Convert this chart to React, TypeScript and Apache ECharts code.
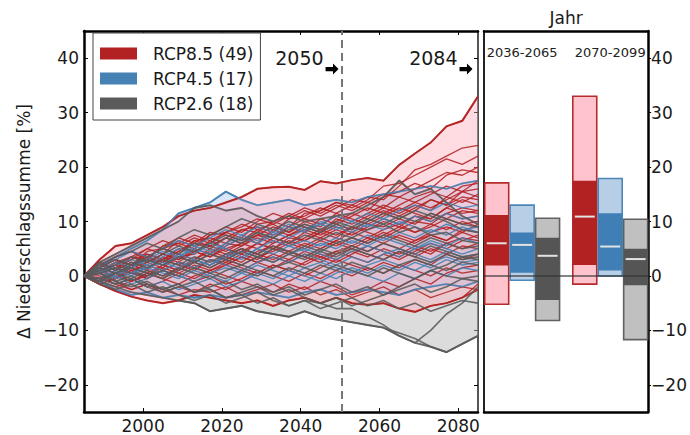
import React, { useEffect, useRef } from 'react';
import * as echarts from 'echarts';

// ---------- data ----------
const years = [1985, 1989, 1993, 1997, 2001, 2005, 2009, 2013, 2017, 2021, 2025, 2029, 2033,
  2037, 2041, 2045, 2049, 2053, 2057, 2061, 2065, 2069, 2073, 2077, 2081, 2085];

const xTicks = [2000, 2020, 2040, 2060, 2080];
const yTicks = [-20, -10, 0, 10, 20, 30, 40];

const rcp85Runs = [
  [0, 3.0, 5.5, 6.0, 7.5, 9.0, 11.0, 12.0, 12.5, 13.5, 14.5, 16.0, 16.3, 16.4, 15.8, 17.4, 17.0, 17.6, 18.0, 17.5, 20.4, 22.5, 24.5, 27.5, 28.5, 33.0],
  [0, -1.5, -2.8, -3.8, -4.5, -5.0, -4.5, -3.5, -4.0, -4.5, -5.0, -4.5, -5.5, -4.5, -4.0, -5.0, -4.0, -5.0, -5.3, -5.0, -6.0, -6.6, -5.5, -5.0, -4.0, -1.5],
  [0, 1.5, 3.0, 2.0, 4.5, 5.0, 4.0, 6.5, 7.0, 6.0, 8.5, 9.0, 8.0, 10.5, 11.0, 12.5, 11.5, 13.0, 14.5, 14.0, 16.5, 19.5, 20.5, 22.0, 23.5, 24.0],
  [0, 2.0, 1.0, 3.5, 3.0, 5.5, 6.0, 5.0, 7.5, 8.0, 7.0, 9.5, 10.0, 9.0, 11.5, 12.0, 13.5, 12.5, 14.0, 16.5, 17.0, 18.5, 20.0, 21.5, 20.5, 22.0],
  [0, 0.5, 2.5, 1.5, 3.0, 2.5, 4.5, 6.0, 5.5, 7.0, 8.5, 8.0, 10.0, 11.5, 10.5, 12.0, 13.5, 13.0, 12.0, 14.5, 15.5, 17.0, 16.0, 18.5, 19.5, 19.0],
  [0, 1.0, -0.5, 1.5, 2.5, 1.5, 3.5, 4.0, 6.5, 5.0, 6.0, 7.5, 7.0, 9.0, 8.0, 10.5, 9.5, 11.0, 12.5, 11.5, 13.0, 14.5, 15.5, 14.5, 16.5, 17.0],
  [0, -1.0, 0.5, 2.0, 1.0, 3.5, 2.5, 4.5, 3.5, 5.5, 7.0, 6.0, 8.5, 7.5, 9.0, 8.0, 10.5, 9.5, 11.0, 12.5, 11.5, 13.0, 12.0, 14.5, 13.5, 15.0],
  [0, 1.5, 3.5, 4.5, 3.0, 5.5, 7.0, 6.0, 8.0, 7.5, 6.5, 8.5, 9.5, 8.0, 10.0, 9.0, 11.5, 10.5, 9.5, 11.0, 12.5, 11.5, 10.5, 12.5, 14.0, 13.0],
  [0, -1.5, -0.5, 1.0, 0.0, 2.0, 1.0, 3.0, 4.5, 3.5, 5.0, 4.0, 6.0, 7.5, 6.5, 8.0, 7.0, 9.0, 8.5, 10.0, 9.0, 11.0, 10.5, 12.5, 11.5, 12.0],
  [0, 0.5, 1.5, 0.5, 2.5, 4.0, 3.0, 5.0, 4.0, 6.0, 5.5, 7.5, 6.5, 5.5, 7.0, 8.5, 7.5, 9.0, 8.0, 7.0, 8.5, 10.0, 9.5, 11.5, 10.5, 11.0],
  [0, 1.0, 0.0, -1.0, 0.5, -0.5, 1.5, 3.0, 2.0, 3.5, 2.5, 4.5, 5.5, 4.5, 6.0, 5.0, 6.5, 8.0, 7.0, 8.5, 9.5, 8.0, 9.0, 10.5, 9.5, 10.0],
  [0, -0.5, 1.0, 2.5, 1.5, 3.0, 2.0, 1.0, 3.0, 2.5, 4.0, 3.0, 5.0, 4.5, 3.5, 5.0, 6.5, 5.5, 7.0, 6.0, 5.0, 6.5, 7.5, 6.5, 8.5, 8.0],
  [0, 1.0, 2.0, 1.0, -0.5, 1.0, 2.5, 1.5, 0.5, 2.0, 3.5, 2.5, 1.5, 3.0, 4.5, 3.5, 2.5, 4.0, 5.5, 4.5, 3.5, 5.0, 4.0, 6.0, 5.0, 6.0],
  [0, -1.0, -2.0, -1.0, 0.5, -0.5, -1.5, 0.0, 1.0, 0.0, -1.0, 0.5, 2.0, 1.0, 0.0, 1.5, 3.0, 2.0, 1.0, 2.5, 1.5, 3.0, 2.0, 4.0, 3.0, 4.0],
  [0, 0.5, -1.0, -2.5, -1.5, -3.0, -2.0, -3.0, -1.5, -2.5, -1.0, -2.0, -3.0, -1.5, -2.5, -1.0, -2.0, -3.5, -2.5, -1.0, -2.0, -0.5, -1.5, 0.5, 1.5, 2.0],
  [0, 2.0, 3.0, 2.0, 4.0, 3.0, 5.0, 4.5, 3.5, 5.0, 4.0, 6.0, 5.0, 6.5, 5.5, 7.0, 6.0, 5.0, 6.5, 8.0, 7.0, 6.0, 7.5, 6.5, 8.0, 7.0],
  [0, -0.5, 0.5, 1.5, 3.0, 2.0, 1.0, 2.5, 4.0, 3.0, 4.5, 6.0, 5.0, 7.0, 6.5, 8.0, 9.5, 8.5, 10.0, 11.5, 10.5, 12.0, 14.0, 13.0, 15.5, 16.0],
  [0, 1.0, 2.5, 3.5, 5.0, 4.0, 6.5, 5.5, 7.5, 9.0, 8.0, 10.0, 11.5, 10.5, 12.0, 11.0, 12.5, 14.0, 13.5, 15.0, 14.5, 16.0, 17.5, 19.0, 18.5, 20.0],
  [0, 2.5, 1.5, 3.0, 5.0, 6.5, 5.5, 7.0, 6.0, 8.0, 9.5, 8.5, 7.5, 9.0, 10.5, 9.5, 11.0, 10.0, 11.5, 13.0, 12.0, 13.5, 12.5, 14.0, 15.5, 14.5],
  [0, 0.0, -1.5, -0.5, -2.0, -1.0, 0.5, -0.5, 1.0, 2.0, 1.0, 2.5, 3.5, 2.5, 4.0, 3.0, 4.5, 5.5, 4.5, 6.0, 7.5, 6.5, 8.0, 9.0, 8.0, 9.5],
  [0, 1.0, 2.0, 3.5, 2.5, 4.0, 3.0, 4.5, 5.5, 4.5, 6.0, 5.0, 7.0, 6.0, 8.0, 7.0, 8.5, 7.5, 9.0, 10.5, 9.5, 11.0, 10.0, 11.5, 12.5, 12.0],
  [0, -0.5, 0.5, -1.0, 0.0, 1.5, 0.5, 2.0, 1.0, 2.5, 1.5, 0.5, 2.0, 1.0, 2.5, 4.0, 3.0, 4.5, 3.5, 5.0, 4.0, 5.5, 4.5, 6.0, 7.0, 6.5],
  [0, 1.5, 0.5, 2.0, 1.0, 0.0, 1.5, 3.0, 2.0, 3.5, 5.0, 4.0, 3.0, 4.5, 3.5, 2.5, 4.0, 5.0, 4.0, 3.0, 4.5, 3.5, 5.0, 4.0, 5.5, 5.0],
  [0, 0.5, 1.5, 3.0, 4.0, 3.0, 4.5, 6.5, 5.5, 7.0, 6.0, 7.5, 9.0, 8.0, 9.5, 8.5, 10.0, 11.5, 10.5, 12.0, 11.0, 12.5, 14.0, 13.0, 14.5, 14.0],
  [0, -1.0, -0.5, 0.5, -0.5, 1.0, 0.0, -1.0, 0.0, -1.5, -0.5, 1.0, 0.0, -1.0, 0.5, -0.5, 1.0, 0.0, 1.5, 0.5, 2.0, 1.0, 0.0, 1.5, 0.5, 1.0],
  [0, 1.0, 2.5, 1.5, 3.5, 2.5, 4.0, 3.0, 5.0, 4.0, 5.5, 7.0, 6.0, 7.5, 8.5, 7.5, 9.0, 8.0, 9.5, 9.0, 10.5, 9.5, 11.5, 10.5, 12.0, 11.5],
  [0, -0.5, -1.5, -2.5, -1.5, -2.5, -3.5, -2.5, -3.0, -2.0, -3.5, -2.5, -1.5, -3.0, -2.0, -3.5, -2.5, -4.0, -3.0, -2.0, -3.5, -2.5, -4.0, -3.0, -2.0, -2.5],
  [0, 2.0, 3.5, 4.5, 3.5, 5.0, 6.0, 7.5, 6.5, 8.0, 9.0, 10.5, 9.5, 11.0, 12.5, 11.5, 13.0, 12.0, 13.5, 12.5, 14.5, 13.5, 15.0, 16.5, 15.5, 17.5],
  [0, 0.5, -0.5, 1.0, 2.0, 1.0, 2.5, 1.5, 3.0, 2.0, 3.5, 2.5, 4.0, 3.0, 2.0, 3.5, 4.5, 3.5, 2.5, 4.0, 3.0, 4.5, 6.0, 5.0, 6.5, 7.5],
  [0, 1.0, 0.0, 1.5, 0.5, 2.0, 3.5, 2.5, 1.5, 3.0, 2.0, 3.5, 4.5, 6.0, 5.0, 6.5, 5.5, 7.0, 6.0, 7.5, 9.0, 8.0, 9.5, 8.5, 10.0, 9.0],
];

const rcp45Runs = [
  [0, 2.0, 3.5, 5.0, 6.5, 8.5, 11.5, 12.5, 13.5, 15.5, 14.0, 13.0, 13.5, 14.0, 13.0, 13.5, 14.0, 13.5, 14.5, 15.0, 15.5, 16.0, 16.5, 16.0, 17.0, 17.5],
  [0, -1.0, -2.5, -3.5, -3.0, -4.0, -3.5, -4.0, -3.5, -4.0, -3.5, -3.0, -3.5, -4.0, -3.0, -2.5, -3.5, -3.0, -2.5, -3.0, -3.5, -2.5, -2.0, -1.5, -2.0, -1.0],
  [0, 1.0, 2.5, 1.5, 3.0, 4.5, 3.5, 5.5, 4.5, 6.0, 7.5, 6.5, 8.0, 7.0, 8.5, 9.5, 8.5, 10.0, 9.0, 10.5, 9.5, 11.0, 10.0, 11.5, 10.5, 11.0],
  [0, -0.5, 1.0, 0.0, 1.5, 2.5, 1.5, 3.0, 2.0, 4.0, 3.0, 5.0, 4.0, 5.5, 6.5, 5.5, 7.0, 6.0, 7.5, 6.5, 8.0, 7.0, 8.5, 7.5, 9.0, 8.0],
  [0, 1.5, 0.5, 2.0, 3.0, 2.0, 4.0, 3.0, 2.0, 3.5, 4.5, 3.5, 2.5, 4.0, 5.0, 4.0, 3.0, 4.5, 5.5, 4.5, 3.5, 5.0, 6.0, 5.0, 4.0, 5.0],
  [0, -1.0, 0.0, -1.5, -0.5, 1.0, 0.0, -1.0, 0.5, 1.5, 0.5, 2.0, 1.0, 0.0, 1.5, 2.5, 1.5, 0.5, 2.0, 3.0, 2.0, 1.0, 2.5, 3.5, 2.5, 3.0],
  [0, 0.5, 2.0, 3.0, 2.0, 3.5, 5.0, 4.0, 6.0, 5.0, 3.5, 5.0, 6.5, 5.5, 4.5, 6.0, 5.0, 6.5, 5.5, 7.0, 6.0, 5.0, 6.5, 5.5, 7.0, 6.0],
  [0, 0.5, -0.5, 0.5, 1.5, 0.5, -0.5, 1.0, 0.0, -1.0, 0.5, -0.5, -1.5, 0.0, -1.0, 0.5, -0.5, 1.0, 0.0, -1.0, 0.5, -0.5, 1.0, 0.0, 1.5, 1.0],
  [0, 1.0, 0.0, 1.5, 3.0, 2.0, 3.5, 5.0, 4.0, 5.5, 7.0, 6.0, 7.5, 9.0, 8.0, 9.5, 11.0, 10.0, 11.5, 10.5, 12.0, 13.0, 12.0, 13.5, 12.5, 13.0],
  [0, -0.5, -1.5, -0.5, -2.0, -1.0, -2.5, -1.5, -0.5, -2.0, -1.0, 0.5, -0.5, 1.0, 0.0, -1.0, 0.5, 1.5, 0.5, 2.0, 1.0, 2.5, 1.5, 3.0, 2.0, 2.5],
  [0, 2.0, 3.0, 4.5, 3.5, 5.0, 6.5, 5.5, 7.0, 8.5, 7.5, 9.0, 8.0, 9.5, 8.5, 10.0, 9.0, 8.0, 9.5, 8.5, 10.0, 9.0, 8.0, 9.5, 8.5, 9.0],
  [0, 0.5, 1.5, 0.5, 2.0, 1.0, 2.5, 1.5, 3.0, 2.0, 1.0, 2.5, 3.5, 2.5, 4.0, 3.0, 2.0, 3.5, 2.5, 4.0, 5.0, 4.0, 3.0, 4.5, 3.5, 4.0],
];

const rcp26Runs = [
  [0, 2.5, 4.0, 5.5, 7.0, 8.5, 10.0, 12.5, 13.0, 12.0, 12.5, 11.0, 10.0, 11.0, 10.0, 10.5, 11.0, 11.5, 13.0, 14.5, 17.5, 15.0, 16.0, 13.5, 11.0, 9.5],
  [0, -1.0, -2.0, -3.0, -3.5, -4.0, -4.5, -5.0, -6.5, -6.0, -5.5, -6.5, -7.0, -7.5, -6.5, -7.5, -8.0, -8.5, -9.0, -9.5, -10.5, -11.5, -13.0, -14.0, -12.5, -11.0],
  [0, 0.5, -1.0, 0.0, -1.5, -2.5, -1.5, -3.0, -2.5, -4.0, -3.5, -5.0, -4.0, -5.5, -4.5, -5.0, -6.0, -6.0, -7.5, -9.0, -11.0, -12.3, -10.0, -7.0, -5.0, -2.0],
  [0, 1.5, 3.0, 2.0, 3.5, 5.0, 4.0, 6.0, 5.0, 7.0, 6.0, 8.0, 7.0, 6.0, 7.5, 6.5, 8.0, 7.0, 8.5, 9.5, 8.0, 9.0, 7.5, 8.0, 6.5, 6.0],
  [0, 2.5, 1.0, 2.5, 1.5, 3.0, 2.0, 3.5, 2.5, 4.0, 5.0, 4.0, 5.5, 4.5, 3.5, 5.0, 4.0, 5.5, 4.5, 6.0, 5.0, 4.0, 5.5, 4.5, 3.5, 4.0],
  [0, -1.0, 0.5, -0.5, 1.0, 0.0, 1.5, 0.5, -0.5, 1.0, 2.0, 1.0, 0.0, 1.5, 0.5, 2.0, 1.0, 2.5, 1.5, 0.5, 2.0, 3.0, 2.0, 1.0, 2.5, 2.0],
  [0, 0.5, -1.0, -2.0, -1.0, -2.5, -1.5, -3.0, -2.0, -1.0, -2.5, -1.5, -3.0, -2.0, -3.5, -2.5, -1.5, -3.0, -2.0, -3.5, -2.5, -1.5, -3.0, -2.0, -0.5, -1.0],
  [0, 1.0, 2.0, 3.5, 2.5, 4.0, 5.5, 4.5, 6.0, 7.5, 6.5, 8.0, 7.0, 8.5, 9.5, 8.5, 10.0, 9.0, 10.5, 9.5, 11.0, 10.0, 11.5, 10.5, 9.5, 9.0],
  [0, -0.5, -1.5, -0.5, -2.0, -3.0, -2.0, -1.0, -2.5, -4.0, -3.0, -2.0, -3.5, -2.5, -4.0, -5.0, -4.0, -5.5, -4.5, -3.5, -2.0, -0.5, 1.0, 2.0, 3.5, 3.0],
  [0, 1.5, 0.5, 2.0, 3.0, 2.0, 3.5, 2.5, 4.0, 3.0, 4.5, 3.5, 2.5, 4.0, 3.0, 4.5, 3.5, 5.0, 4.0, 3.0, 4.5, 3.5, 2.5, 4.0, 3.0, 3.5],
  [0, -1.5, -2.5, -1.5, -3.0, -2.0, -3.5, -4.5, -3.5, -5.0, -4.0, -3.0, -4.5, -5.5, -4.5, -6.0, -5.0, -4.0, -5.5, -4.5, -6.0, -5.0, -6.5, -5.5, -4.5, -5.0],
  [0, 2.0, 3.5, 4.5, 6.0, 5.0, 7.0, 8.5, 7.5, 9.0, 10.5, 9.5, 8.5, 10.0, 9.0, 8.0, 9.5, 8.5, 10.0, 11.5, 10.5, 12.0, 11.0, 10.0, 8.5, 8.0],
  [0, 0.5, 1.5, 0.5, 0.0, 1.0, 0.0, 1.5, 0.5, -0.5, 1.0, 0.0, 1.5, 2.5, 1.5, 0.5, 2.0, 1.0, 0.0, 1.5, 0.5, -0.5, 1.0, 0.0, -0.5, 0.0],
  [0, -0.5, 0.5, 1.5, 0.5, -0.5, 1.0, 2.5, 1.5, 3.0, 2.0, 3.5, 5.0, 4.0, 5.5, 4.5, 6.0, 7.0, 6.0, 7.5, 6.5, 5.5, 7.0, 6.0, 5.0, 5.5],
];

const periods = ['2036-2065', '2070-2099'];
const rcp85Range = [[-5.2, 17.1], [-1.5, 33.0]];
const rcp85Likely = [[1.9, 11.2], [2.0, 17.5]];
const rcp85Median = [6.0, 10.9];
const rcp45Range = [[-0.8, 13.0], [0.0, 17.9]];
const rcp45Likely = [[0.6, 8.0], [1.0, 11.5]];
const rcp45Median = [5.7, 5.4];
const rcp26Range = [[-8.2, 10.6], [-11.7, 10.4]];
const rcp26Likely = [[-4.4, 7.0], [-1.7, 5.0]];
const rcp26Median = [3.7, 3.1];

const names = ['RCP8.5 (49)', 'RCP4.5 (17)', 'RCP2.6 (18)'];

// ---------- styles ----------
const FONT = 'DejaVu Sans';
const TXT = '#1a1a1a';
const scen = [
  { name: names[0], runs: rcp85Runs, line: '#b22222', fillEnv: 'rgba(255,170,185,0.42)', light: '#ffc0cb', dark: '#b22222', w: 1.3,
    range: rcp85Range, likely: rcp85Likely, median: rcp85Median },
  { name: names[1], runs: rcp45Runs, line: '#4682b4', fillEnv: 'rgba(170,200,235,0.45)', light: '#b3cbe6', dark: '#3f7fb6', w: 1.4,
    range: rcp45Range, likely: rcp45Likely, median: rcp45Median },
  { name: names[2], runs: rcp26Runs, line: '#5a5a5a', fillEnv: 'rgba(185,185,185,0.5)', light: '#bdbdbd', dark: '#555555', w: 1.6,
    range: rcp26Range, likely: rcp26Likely, median: rcp26Median },
];

const groupCenters = [1.56, 5.16];
const slotOffsets = [-1.04, 0, 1.04];
const boxWidth = 0.98;

const fmtNum = (v: number) => (v < 0 ? '\u2212' + Math.abs(v) : String(v));

function envelopeSeries(s: any) {
  const upper = years.map((_, i) => Math.max(...s.runs.map((r: number[]) => r[i])));
  const lower = years.map((_, i) => Math.min(...s.runs.map((r: number[]) => r[i])));
  return {
    type: 'custom',
    name: s.name,
    xAxisIndex: 0,
    yAxisIndex: 0,
    clip: true,
    silent: true,
    z: 1,
    itemStyle: { color: s.line },
    data: [[2035, 0]],
    renderItem: (params: any, api: any) => {
      const up = years.map((y, i) => api.coord([y, upper[i]]));
      const lo = years.map((y, i) => api.coord([y, lower[i]]));
      return {
        type: 'group',
        children: [
          { type: 'polygon', shape: { points: up.concat(lo.slice().reverse()) }, style: { fill: s.fillEnv, stroke: 'none' } },
          { type: 'polyline', shape: { points: up }, style: { stroke: s.line, lineWidth: 2, fill: 'none', opacity: 0.9 } },
          { type: 'polyline', shape: { points: lo }, style: { stroke: s.line, lineWidth: 2, fill: 'none', opacity: 0.9 } },
        ],
      };
    },
  };
}

function boxSeries(s: any, k: number, extra: any) {
  return {
    type: 'custom',
    name: s.name + ' box',
    xAxisIndex: 2,
    yAxisIndex: 2,
    clip: true,
    silent: true,
    z: 3,
    data: periods.map((_, i) => [i, s.range[i][0], s.range[i][1], s.likely[i][0], s.likely[i][1], s.median[i]]),
    renderItem: (params: any, api: any) => {
      const gi = api.value(0);
      const xc = groupCenters[gi] + slotOffsets[k];
      const x0 = xc - boxWidth / 2;
      const x1 = xc + boxWidth / 2;
      const oTop = api.coord([x0, api.value(2)]);
      const oBot = api.coord([x1, api.value(1)]);
      const iTop = api.coord([x0, api.value(4)]);
      const iBot = api.coord([x1, api.value(3)]);
      const med = api.coord([x0, api.value(5)]);
      return {
        type: 'group',
        children: [
          { type: 'rect', shape: { x: oTop[0], y: oTop[1], width: oBot[0] - oTop[0], height: oBot[1] - oTop[1] },
            style: { fill: s.light, stroke: s.line, lineWidth: 1.6, opacity: 0.95 } },
          { type: 'rect', shape: { x: iTop[0], y: iTop[1], width: iBot[0] - iTop[0], height: iBot[1] - iTop[1] },
            style: { fill: s.dark, stroke: 'none' } },
          { type: 'line', shape: { x1: med[0] + 2, y1: med[1], x2: oBot[0] - 2, y2: med[1] },
            style: { stroke: '#e2e2e2', lineWidth: 2 } },
        ],
      };
    },
    ...extra,
  };
}

const App: React.FC = () => {
  const ref = useRef<HTMLDivElement>(null);

  useEffect(() => {
    if (!ref.current) return;
    const chart = echarts.init(ref.current, undefined, { renderer: 'svg' });

    const axisLineBlack = { show: true, onZero: false, lineStyle: { color: '#000', width: 2.5 } };

    const series: any[] = [];
    series.push(envelopeSeries(scen[2]));
    series.push(envelopeSeries(scen[1]));
    series.push(envelopeSeries(scen[0]));
    scen.forEach((s) => {
      s.runs.forEach((run: number[], ri: number) => {
        series.push({
          type: 'line',
          name: s.name + ' run ' + (ri + 1),
          xAxisIndex: 0,
          yAxisIndex: 0,
          data: years.map((y, i) => [y, run[i]]),
          symbol: 'none',
          showSymbol: false,
          silent: true,
          z: 2,
          lineStyle: { color: s.line, width: s.w, opacity: 0.88 },
        });
      });
    });
    series.push({
      type: 'line',
      name: 'annot',
      xAxisIndex: 0,
      yAxisIndex: 0,
      data: [[2050.5, 38]],
      symbol: 'none',
      showSymbol: false,
      silent: true,
      lineStyle: { opacity: 0 },
      z: 4,
      markLine: {
        silent: true,
        symbol: 'none',
        label: { show: false },
        lineStyle: { type: [8, 5], color: '#777', width: 2 },
        data: [{ xAxis: 2050.5 }],
      },
      markPoint: {
        silent: true,
        symbol: 'path://M0,3L8,3L8,0L14,5L8,10L8,7L0,7Z',
        symbolSize: [13, 11],
        symbolOffset: [-10, 0],
        itemStyle: { color: '#000' },
        label: {
          show: true,
          formatter: (p: any) => p.name,
          position: [-2, -6],
          align: 'right',
          verticalAlign: 'middle',
          fontSize: 19,
          color: TXT,
          fontFamily: FONT,
        },
        data: [
          { name: '2050', coord: [2050.5, 38] },
          { name: '2084', coord: [2084.5, 38] },
        ],
      },
    });
    series.push(boxSeries(scen[0], 0, {}));
    series.push(boxSeries(scen[1], 1, {}));
    series.push(boxSeries(scen[2], 2, {
      markLine: {
        silent: true,
        symbol: 'none',
        label: { show: false },
        lineStyle: { type: 'solid', color: 'rgba(50,50,50,0.8)', width: 1.5 },
        data: [{ yAxis: 0 }],
      },
    }));

    chart.setOption({
      animation: false,
      backgroundColor: '#fff',
      textStyle: { fontFamily: FONT },
      grid: [
        { left: 84, top: 31, width: 394, height: 381 },
        { left: 484, top: 31, width: 171, height: 381 },
      ],
      legend: {
        show: true,
        left: 93,
        top: 33,
        orient: 'vertical',
        selectedMode: false,
        itemWidth: 37,
        itemHeight: 12,
        itemGap: 8,
        padding: [12, 7, 8, 7],
        borderColor: '#444',
        borderWidth: 1,
        backgroundColor: '#fff',
        textStyle: { fontSize: 17, color: TXT, fontFamily: FONT, padding: [0, 0, 0, 11] },
        data: [
          { name: names[0], icon: 'rect', itemStyle: { color: scen[0].line } },
          { name: names[1], icon: 'rect', itemStyle: { color: scen[1].line } },
          { name: names[2], icon: 'rect', itemStyle: { color: scen[2].line } },
        ],
      },
      xAxis: [
        {
          gridIndex: 0, type: 'value', min: 1985, max: 2085, position: 'bottom',
          axisLine: axisLineBlack,
          axisTick: { show: true, inside: true, length: 4, customValues: xTicks, lineStyle: { color: '#000', width: 1 } },
          axisLabel: { show: true, customValues: xTicks, formatter: (v: number) => String(v), fontSize: 17, color: TXT, margin: 5, fontFamily: FONT },
          splitLine: { show: false },
        },
        {
          gridIndex: 0, type: 'value', min: 1985, max: 2085, position: 'top',
          axisLine: axisLineBlack,
          axisTick: { show: true, inside: true, length: 4, customValues: xTicks, lineStyle: { color: '#000', width: 1 } },
          axisLabel: { show: false },
          splitLine: { show: false },
        },
        {
          gridIndex: 1, type: 'value', min: 0, max: 6.71, position: 'bottom',
          axisLine: axisLineBlack,
          axisTick: { show: false },
          axisLabel: { show: false },
          splitLine: { show: false },
        },
        {
          gridIndex: 1, type: 'value', min: 0, max: 6.71, position: 'top',
          name: 'Jahr', nameLocation: 'middle', nameGap: 5,
          nameTextStyle: { fontSize: 17, color: TXT, fontFamily: FONT },
          axisLine: axisLineBlack,
          axisTick: { show: false },
          axisLabel: {
            show: true, inside: true, margin: 15, customValues: groupCenters,
            formatter: (v: number) => periods[v < 3 ? 0 : 1],
            fontSize: 13, color: '#222', fontFamily: FONT,
          },
          splitLine: { show: false },
        },
      ],
      yAxis: [
        {
          gridIndex: 0, type: 'value', min: -25, max: 45, position: 'left',
          name: 'Δ Niederschlagssumme [%]', nameLocation: 'middle', nameGap: 50,
          nameTextStyle: { fontSize: 17, color: TXT, fontFamily: FONT },
          axisLine: axisLineBlack,
          axisTick: { show: true, inside: true, length: 4, customValues: yTicks, lineStyle: { color: '#000', width: 1 } },
          axisLabel: { show: true, customValues: yTicks, formatter: fmtNum, fontSize: 17, color: TXT, margin: 5, fontFamily: FONT },
          splitLine: { show: false },
        },
        {
          gridIndex: 0, type: 'value', min: -25, max: 45, position: 'right',
          axisLine: { show: true, onZero: false, lineStyle: { color: '#555', width: 2 } },
          axisTick: { show: true, inside: true, length: 4, customValues: yTicks, lineStyle: { color: '#000', width: 1 } },
          axisLabel: { show: false },
          splitLine: { show: false },
        },
        {
          gridIndex: 1, type: 'value', min: -25, max: 45, position: 'right',
          axisLine: axisLineBlack,
          axisTick: { show: true, inside: false, length: 3, customValues: yTicks, lineStyle: { color: '#000', width: 1 } },
          axisLabel: { show: true, customValues: yTicks, formatter: fmtNum, fontSize: 17, color: TXT, margin: 3, fontFamily: FONT },
          splitLine: { show: false },
        },
        {
          gridIndex: 1, type: 'value', min: -25, max: 45, position: 'left',
          axisLine: { show: true, onZero: false, lineStyle: { color: '#222', width: 2 } },
          axisTick: { show: false },
          axisLabel: { show: false },
          splitLine: { show: false },
        },
      ],
      series,
    });

    return () => {
      chart.dispose();
    };
  }, []);

  return <div ref={ref} style={{ position: 'absolute', left: 0, top: 0, width: 690, height: 435 }} />;
};

export default App;
